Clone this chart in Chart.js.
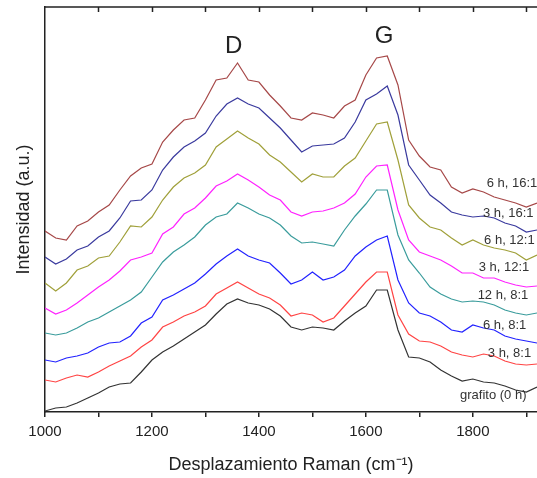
<!DOCTYPE html>
<html>
<head>
<meta charset="utf-8">
<script src="https://cdn.jsdelivr.net/npm/chart.js@4.4.1/dist/chart.umd.min.js"></script>
<style>
  body { margin: 0; background: #fff; }
  canvas { display: block; }
</style>
</head>
<body>
<canvas id="mycanvas" width="537" height="478"></canvas>
<script>
/* Raman shift, cm-1 (one point every 20) */
var shift = [1000,1020,1040,1060,1080,1100,1120,1140,1160,1180,1200,1220,1240,1260,1280,1300,
  1320,1340,1360,1380,1400,1420,1440,1460,1480,1500,1520,1540,1560,1580,1600,1620,1640,1660,
  1680,1700,1720,1740,1760,1780,1800,1820,1840,1860,1880,1900,1920];

/* stacked intensities (a.u.) */
var h6_16 = [181,174,172,186,191,200,207,222,236,244,248,270,282,292,294,312,332,334,349,332,330,317,306,294,292,299,297,294,306,312,337,354,356,327,272,256,245,242,225,219,223,220,215,212,209,205,209];
var h3_16 = [155,148,153,162,166,175,181,194,211,212,222,242,255,265,271,279,296,308,314,308,304,294,284,272,260,266,267,268,274,290,312,318,326,297,247,232,217,209,200,197,195,196,194,189,186,180,182];
var h6_12 = [129,121,129,142,146,154,156,170,186,185,195,212,225,234,239,247,265,273,281,274,268,257,250,240,230,238,235,235,246,254,271,288,290,252,207,194,185,182,174,167,172,167,164,162,159,152,157];
var h3_12 = [104,98,102,109,117,125,132,141,152,155,159,178,185,198,204,214,226,231,238,232,225,217,212,200,196,200,201,204,209,218,235,246,247,202,172,160,156,152,146,139,139,134,134,130,127,125,126];
var h12_8 = [79,77,79,84,90,94,100,106,112,120,135,150,160,167,175,187,195,198,209,204,198,194,187,176,169,170,168,166,182,196,208,222,222,177,152,139,125,118,113,110,111,110,107,102,99,97,99];
var h6_8  = [52,50,54,56,59,65,69,70,76,89,95,112,117,123,129,138,148,156,163,156,152,149,139,128,132,140,132,135,142,156,165,172,176,132,109,99,96,90,82,80,87,84,82,76,73,71,69];
var h3_8  = [32,30,34,37,35,40,46,51,56,65,72,85,90,96,100,106,118,124,130,124,118,114,107,96,99,97,90,94,106,118,130,140,140,97,78,71,70,66,60,57,55,58,56,51,48,47,48];
var grafito = [1,4,5,9,14,19,25,28,29,40,52,60,66,73,80,87,98,108,113,109,107,103,96,85,82,85,84,82,91,99,106,122,122,82,55,54,50,42,36,31,33,30,29,26,22,20,25];

var seriesNames = ['6 h, 16:1','3 h, 16:1','6 h, 12:1','3 h, 12:1','12 h, 8:1','6 h, 8:1','3 h, 8:1','grafito (0 h)'];
var seriesData = [h6_16, h3_16, h6_12, h3_12, h12_8, h6_8, h3_8, grafito];
var seriesColors = ['#a64848','#3a3a9e','#a0a03a','#ff22ff','#3a9c9c','#2222ff','#ff4444','#333333'];

/* text labels next to each curve, in data units */
var labelX = [1826,1819,1821,1811,1809,1819,1828,1776];
var labelY = [229,199,172,145,117,87,59,17];

var peaks = [{t:'D', x:1353, y:366}, {t:'G', x:1634, y:376}];

var FONT = '"Liberation Sans", Arial, sans-serif';

var datasets = [];
for (var i in seriesData) {
	var pts = [];
	for (var j in shift) {
		pts.push({x: shift[j], y: seriesData[i][j]});
	}
	datasets.push({
		label: seriesNames[i],
		data: pts,
		borderColor: seriesColors[i],
		borderWidth: 1.2,
		pointRadius: 0,
		fill: false
	});
}

/* top frame line with inward ticks + text annotations */
var framePlugin = {
	id: 'frame',
	afterDraw: function(chart) {
		var ctx = chart.ctx;
		var a = chart.chartArea;
		var xs = chart.scales.x, ys = chart.scales.y;
		ctx.save();
		ctx.strokeStyle = '#222';
		ctx.lineWidth = 1.5;
		ctx.beginPath();
		ctx.moveTo(a.left, a.top);
		ctx.lineTo(a.right, a.top);
		for (var v = 1100; v <= 1900; v += 100) {
			var px = Math.round(xs.getPixelForValue(v)) + 0.5;
			ctx.moveTo(px, a.top);
			ctx.lineTo(px, a.top + 5);
		}
		ctx.stroke();

		ctx.fillStyle = '#222';
		ctx.textBaseline = 'middle';
		ctx.textAlign = 'center';
		ctx.font = '24px ' + FONT;
		for (var k in peaks) {
			ctx.fillText(peaks[k].t, xs.getPixelForValue(peaks[k].x), ys.getPixelForValue(peaks[k].y));
		}

		ctx.fillStyle = '#333';
		ctx.textAlign = 'left';
		ctx.font = '13px ' + FONT;
		for (var n in seriesNames) {
			ctx.fillText(seriesNames[n], xs.getPixelForValue(labelX[n]), ys.getPixelForValue(labelY[n]));
		}
		ctx.restore();
	}
};

var ctx = document.getElementById('mycanvas');
var ramanChart = new Chart(ctx, {
	type: 'line',
	data: { datasets: datasets },
	plugins: [framePlugin],
	options: {
		responsive: false,
		animation: false,
		layout: { padding: { top: 7, right: 0, left: 0, bottom: 0 } },
		plugins: { legend: { display: false }, tooltip: { enabled: false } },
		scales: {
			x: {
				type: 'linear',
				min: 1000,
				max: 1920,
				afterFit: function(s) { s.height = 66; },
				border: { display: true, color: '#222', width: 1.5 },
				grid: { drawOnChartArea: false, tickLength: 5, color: '#222', lineWidth: 1.5 },
				ticks: {
					stepSize: 100,
					autoSkip: false,
					maxRotation: 0,
					includeBounds: false,
					padding: 6,
					color: '#222',
					font: { family: FONT, size: 15 },
					callback: function(v) { return v % 200 === 0 ? v : ''; }
				},
				title: {
					display: true,
					text: 'Desplazamiento Raman (cm\u207B\u00B9)',
					color: '#222',
					font: { family: FONT, size: 18 },
					padding: { top: 0, bottom: 2 }
				}
			},
			y: {
				min: 0,
				max: 405,
				afterFit: function(s) { s.width = 45; },
				border: { display: true, color: '#222', width: 1.5 },
				grid: { display: false },
				ticks: { display: false },
				title: {
					display: true,
					text: 'Intensidad (a.u.)',
					color: '#222',
					font: { family: FONT, size: 18 },
					padding: { top: 13, bottom: 0 }
				}
			}
		}
	}
});
</script>
</body>
</html>
